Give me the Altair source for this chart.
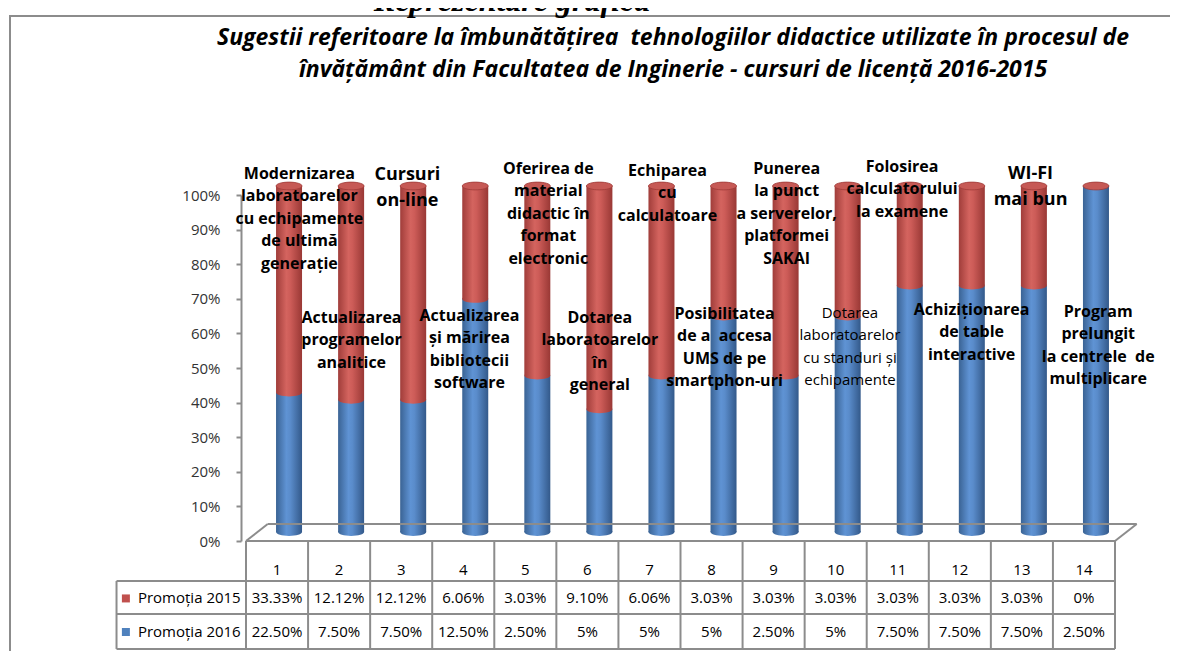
import altair as alt
import pandas as pd

# ---------------- data ----------------
categories = list(range(1, 15))
promotia_2015 = [33.33, 12.12, 12.12, 6.06, 3.03, 9.10, 6.06, 3.03, 3.03, 3.03, 3.03, 3.03, 3.03, 0]
promotia_2016 = [22.50, 7.50, 7.50, 12.50, 2.50, 5, 5, 5, 2.50, 5, 7.50, 7.50, 7.50, 2.50]
series_names = ["Promoția 2015", "Promoția 2016"]
suggestions = [
    "Modernizarea\nlaboratoarelor\ncu echipamente\nde ultimă\ngenerație",
    "Actualizarea\nprogramelor\nanalitice",
    "Cursuri\non-line",
    "Actualizarea\nși mărirea\nbibliotecii\nsoftware",
    "Oferirea de\nmaterial\ndidactic în\nformat\nelectronic",
    "Dotarea\nlaboratoarelor\nîn\ngeneral",
    "Echiparea\ncu\ncalculatoare",
    "Posibilitatea\nde a\u00a0 accesa\nUMS de pe\nsmartphon-uri",
    "Punerea\nla punct\na serverelor,\nplatformei\nSAKAI",
    "Dotarea\nlaboratoarelor\ncu standuri și\nechipamente",
    "Folosirea\ncalculatorului\nla examene",
    "Achiziționarea\nde table\ninteractive",
    "WI-FI\nmai bun",
    "Program\nprelungit\nla centrele\u00a0 de\nmultiplicare",
]
label_kind = ["bold", "bold", "large", "bold", "bold", "bold", "bold",
              "bold", "bold", "plain", "bold", "bold", "large", "bold"]
y_ticks = [round(i * 0.1, 1) for i in range(11)]
title_text = ("Sugestii referitoare la îmbunătățirea\u00a0 tehnologiilor didactice utilizate în procesul de\n"
              "învățământ din Facultatea de Inginerie - cursuri de licență 2016-2015")
header_text = "Reprezentare grafică"

# ---------------- layout (annotation placement, in axis units) ----------------
label_shift = [0.36, 0.20, 0.10, 0.10, 0.37, 0.20, 0.29, 0.21, 0.21, 0.23, 0.07, 0.19, 0.14, 0.23]
label_top = [1.085, 0.668, 1.083, 0.674, 1.099, 0.668, 1.093, 0.680, 1.099, 0.680, 1.105, 0.692, 1.086, 0.686]
ROW_HDR, ROW_15, ROW_16 = -0.084, -0.166, -0.263
ROW_LINES = [-0.1156, -0.211, -0.312]
LEG_LEFT, LEG_TEXT, LEG_SWATCH = -1.586, -1.241, -1.435
FLOOR_DU, FLOOR_DV = 0.35, 0.049

BLUE, RED = "#4f81bd", "#c0504d"
GRID = "#8c8c8c"
FONT = "Open Sans"


def fmt(v):
    return f"{v:.0f}%" if float(v).is_integer() else f"{v:.2f}%"


bars = pd.DataFrame({"cat": categories, "p15": promotia_2015, "p16": promotia_2016})
bars["split"] = bars["p16"] / (bars["p16"] + bars["p15"])
bars["base"] = 0.0
bars["top"] = 1.0

labels = pd.DataFrame({
    "lx": [c + s for c, s in zip(categories, label_shift)],
    "ly": label_top,
    "text": suggestions,
    "kind": label_kind,
})

cells = []
for c, a, b in zip(categories, promotia_2015, promotia_2016):
    cells.append({"x": c, "y": ROW_HDR, "t": str(c)})
    cells.append({"x": c, "y": ROW_15, "t": fmt(a)})
    cells.append({"x": c, "y": ROW_16, "t": fmt(b)})
cells = pd.DataFrame(cells)

legend = pd.DataFrame({"name": series_names, "y": [ROW_15, ROW_16],
                       "sx": [LEG_SWATCH] * 2, "tx": [LEG_TEXT] * 2})

x_lo, x_hi = categories[0] - 0.5, categories[-1] + 0.5
segs = []
for k in range(len(categories) + 1):
    segs.append({"x": x_lo + k, "x2": x_lo + k, "y": 0.0, "y2": ROW_LINES[-1]})
segs.append({"x": LEG_LEFT, "x2": LEG_LEFT, "y": ROW_LINES[0], "y2": ROW_LINES[-1]})
for r in ROW_LINES:
    segs.append({"x": LEG_LEFT, "x2": x_hi, "y": r, "y2": r})
# 3-D floor
segs.append({"x": x_lo, "x2": x_hi, "y": 0.0, "y2": 0.0})
segs.append({"x": x_lo, "x2": x_lo + FLOOR_DU, "y": 0.0, "y2": FLOOR_DV})
segs.append({"x": x_lo + FLOOR_DU, "x2": x_hi + FLOOR_DU, "y": FLOOR_DV, "y2": FLOOR_DV})
segs.append({"x": x_hi + FLOOR_DU, "x2": x_hi, "y": FLOOR_DV, "y2": 0.0})
segs = pd.DataFrame(segs)

xs = alt.Scale(domain=[x_lo, x_hi], nice=False, zero=False)
ys = alt.Scale(domain=[0, 1], nice=False, zero=False)
y_axis = alt.Axis(
    values=y_ticks, format=".0%", title=None, grid=False,
    labelFont=FONT, labelFontSize=15, labelColor="#333333", labelPadding=16,
    tickSize=5, tickColor=GRID, tickWidth=2, domainColor=GRID, domainWidth=2)


def X(f):
    return alt.X(f"{f}:Q", scale=xs, axis=None)


def Y(f):
    return alt.Y(f"{f}:Q", scale=ys, axis=y_axis)


def grad(c0, c1, c2, c3):
    return alt.Gradient(gradient="linear", x1=0, x2=1, y1=0, y2=0,
                        stops=[alt.GradientStop(offset=0, color=c0),
                               alt.GradientStop(offset=0.4, color=c1),
                               alt.GradientStop(offset=0.55, color=c2),
                               alt.GradientStop(offset=1, color=c3)])


blue_grad = grad("#3a6394", "#5f93d4", "#5a8ccb", "#33598a")
red_grad = grad("#a03d3a", "#d4645f", "#cd5c58", "#993835")
ELLIPSE = "M-1,0A1,0.3,0,1,1,1,0A1,0.3,0,1,1,-1,0Z"
CW = 26
DX, DY = 12, -9

frame = alt.Chart(pd.DataFrame({"a": [0]})).mark_rect(
    fill="white", fillOpacity=0, stroke=GRID, strokeWidth=2).encode(
    x=alt.value(-231), x2=alt.value(990), y=alt.value(-179), y2=alt.value(520))

header = alt.Chart(pd.DataFrame({"t": [header_text]})).mark_text(
    font="Liberation Serif", fontSize=32, fontWeight="bold", fontStyle="italic",
    align="center", baseline="alphabetic", color="black").encode(
    x=alt.value(271), y=alt.value(-184), text="t:N")

title = alt.Chart(pd.DataFrame({"t": [title_text]})).mark_text(
    font=FONT, fontSize=23, fontWeight="bold", fontStyle="italic", lineBreak="\n",
    lineHeight=32, align="center", baseline="top", color="black").encode(
    x=alt.value(432), y=alt.value(-168), text="t:N")

lines = alt.Chart(segs).mark_rule(color=GRID, strokeWidth=2).encode(
    x=X("x"), x2="x2:Q", y=Y("y"), y2="y2:Q")


def ellipse(field, fill, flt=None, **kw):
    base = alt.Chart(bars)
    if flt:
        base = base.transform_filter(flt)
    return base.mark_point(
        shape=ELLIPSE, size=CW * CW, filled=True, color=fill, opacity=1,
        strokeWidth=0, xOffset=DX, yOffset=DY, **kw).encode(x=X("cat"), y=Y(field))


blue_bottom = ellipse("base", blue_grad)

blue_bar = alt.Chart(bars).mark_bar(
    width=CW, xOffset=DX, yOffset=DY, y2Offset=DY, color=blue_grad).encode(
    x=X("cat"), y=Y("base"), y2="split:Q")

red_bar = alt.Chart(bars).transform_filter("datum.p15 > 0").mark_bar(
    width=CW, xOffset=DX, yOffset=DY, y2Offset=DY, color=red_grad).encode(
    x=X("cat"), y=Y("split"), y2="top:Q")

red_joint = ellipse("split", red_grad, "datum.p15 > 0")

red_cap = alt.Chart(bars).mark_point(
    shape=ELLIPSE, size=CW * CW, filled=True, color="#c65955", opacity=1,
    stroke="#9e3a37", strokeWidth=0.8, xOffset=DX, yOffset=DY).encode(x=X("cat"), y=Y("top"))


def label_layer(kind, size, weight, lh):
    return alt.Chart(labels).transform_filter(f"datum.kind == '{kind}'").mark_text(
        font=FONT, fontSize=size, fontWeight=weight, lineBreak="\n", lineHeight=lh,
        align="center", baseline="top", color="black").encode(
        x=X("lx"), y=Y("ly"), text="text:N")


lab_bold = label_layer("bold", 16, "bold", 22.5)
lab_large = label_layer("large", 18, "bold", 26)
lab_plain = label_layer("plain", 15, "normal", 22.5)

table_text = alt.Chart(cells).mark_text(
    font=FONT, fontSize=15, align="center", baseline="middle", color="black").encode(
    x=X("x"), y=Y("y"), text="t:N")

legend_sw = alt.Chart(legend).mark_square(size=64, opacity=1, filled=True).encode(
    x=X("sx"), y=Y("y"),
    color=alt.Color("name:N", scale=alt.Scale(domain=series_names, range=[RED, BLUE]), legend=None))

legend_tx = alt.Chart(legend).mark_text(
    font=FONT, fontSize=15, align="left", baseline="middle", color="black").encode(
    x=X("tx"), y=Y("y"), text="name:N")

chart = alt.layer(
    blue_bar, frame, header, title, lines, blue_bottom,
    red_bar, red_joint, red_cap, table_text, legend_sw, legend_tx,
    lab_bold, lab_large, lab_plain,
).properties(
    width=879, height=346,
    autosize=alt.AutoSizeParams(type="none"),
    padding={"left": 233, "top": 187, "right": 50, "bottom": 110},
    background="white",
).configure_view(stroke=None)

chart.save("out.html", embed_options={"renderer": "svg", "actions": False})
